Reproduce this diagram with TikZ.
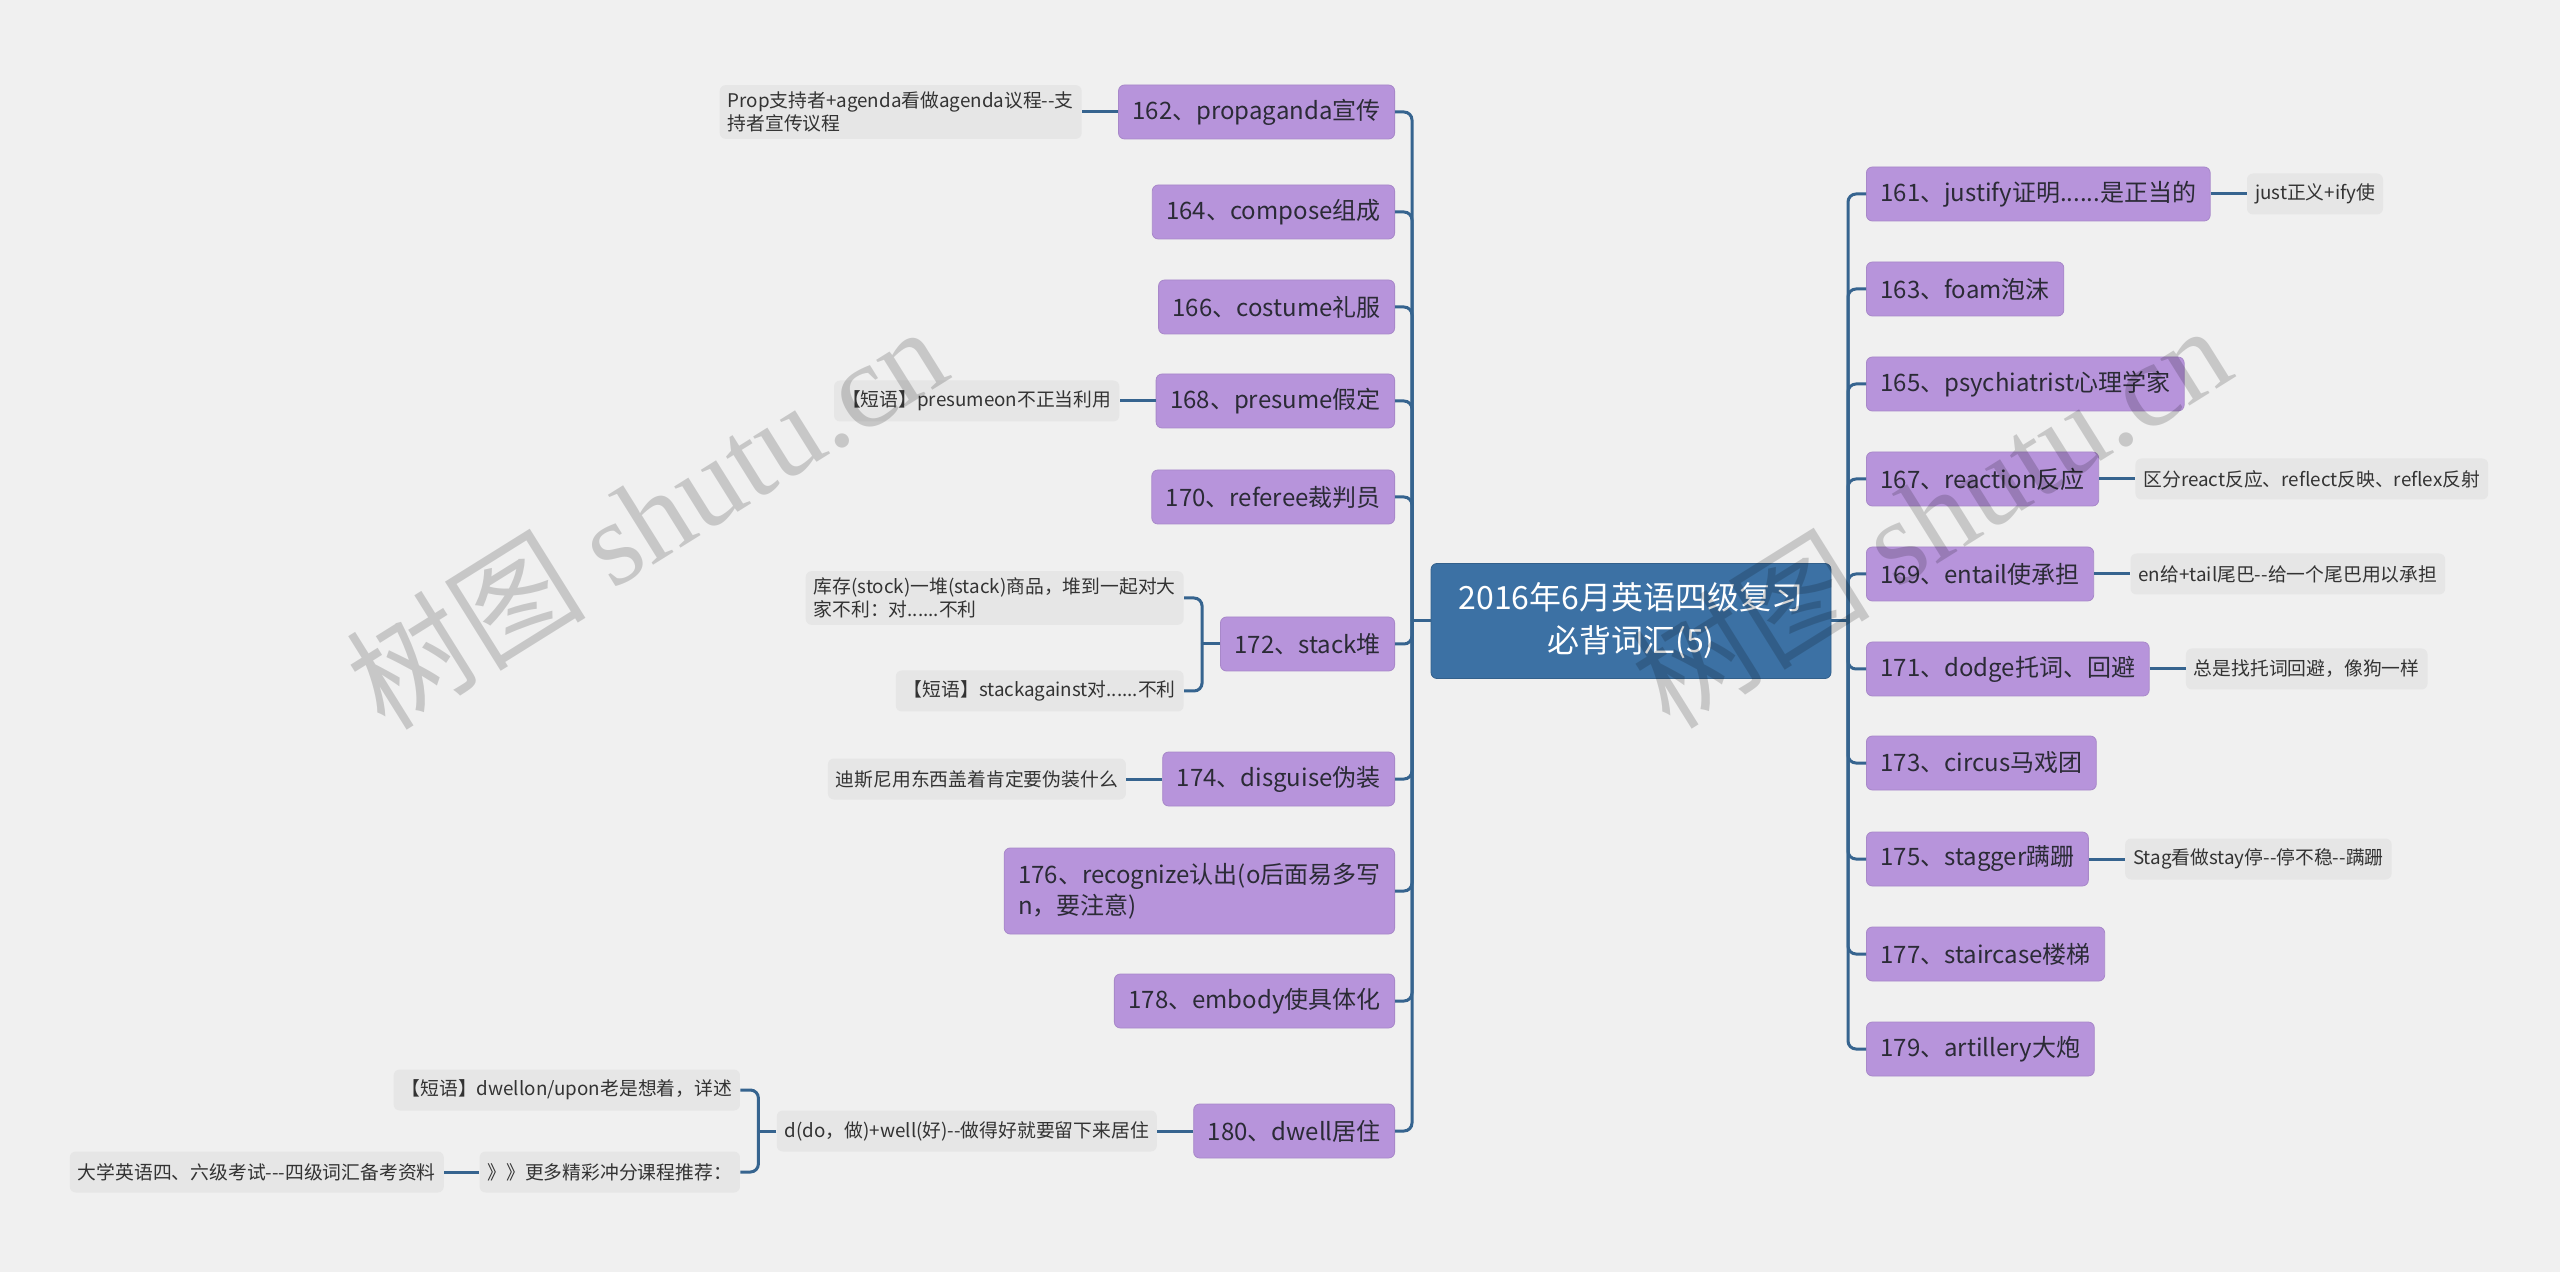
\documentclass[tikz,border=0pt]{standalone}
\usepackage{fontspec}
\setmainfont{Noto Sans CJK SC}[Ligatures=TeXOff]
\newfontfamily\wmfont{Liberation Serif}
\usetikzlibrary{positioning}
\definecolor{bgcol}{HTML}{F0F0F0}
\definecolor{rootcol}{HTML}{3C71A4}
\definecolor{topiccol}{HTML}{B794DB}
\definecolor{notecol}{HTML}{E6E6E6}
\definecolor{linkcol}{HTML}{36648F}
\definecolor{txtcol}{HTML}{2B2B36}
\tikzset{
  root/.style={
    fill=rootcol,
    draw=rootcol!85!black,
    rounded corners=3pt,
    text=white,
    align=center,
    minimum width=200pt,
    minimum height=57.5pt,
    font=\fontsize{16}{21.5}\selectfont
  },
  topic/.style={
    fill=topiccol,
    draw=topiccol!92!black,
    line width=0.4pt,
    rounded corners=3pt,
    text=txtcol,
    align=left,
    inner xsep=7pt,
    minimum height=27pt,
    font=\fontsize{12}{15.5}\selectfont
  },
  note/.style={
    fill=notecol,
    rounded corners=3pt,
    text=black!80,
    align=left,
    inner xsep=4pt,
    minimum height=20.5pt,
    font=\fontsize{9.4}{11.5}\selectfont
  },
  link/.style={
    draw=linkcol,
    line width=1.5pt,
    rounded corners=4pt
  },
  wmark/.style={
    text=black,
    text opacity=0.17,
    rotate=32,
    font=\fontsize{60}{60}\selectfont
  }
}
\begin{document}
\begin{tikzpicture}[x=0.5pt,y=-0.5pt]
  \fill[bgcol] (0,0) rectangle (2560,1272);
  \useasboundingbox (0,0) rectangle (2560,1272);

  % centre
  \node[root] (root) at (1631,621) {2016年6月英语四级复习\\必背词汇(5)};
  \coordinate (ltrunk) at (1412,621);
  \coordinate (rtrunk) at (1848,621);

  % left branch
  \node[topic, anchor=east] (l162) at (1395,112) {162、propaganda宣传};
  \node[topic, anchor=east] (l164) at (1395,212) {164、compose组成};
  \node[topic, anchor=east] (l166) at (1395,307) {166、costume礼服};
  \node[topic, anchor=east] (l168) at (1395,401) {168、presume假定};
  \node[topic, anchor=east] (l170) at (1395,497) {170、referee裁判员};
  \node[topic, anchor=east] (l172) at (1395,644) {172、stack堆};
  \node[topic, anchor=east] (l174) at (1395,779) {174、disguise伪装};
  \node[topic, anchor=east, minimum height=43pt] (l176) at (1395,891) {176、recognize认出(o后面易多写\\n，要注意)};
  \node[topic, anchor=east] (l178) at (1395,1001) {178、embody使具体化};
  \node[topic, anchor=east] (l180) at (1395,1131) {180、dwell居住};

  % right branch
  \node[topic, anchor=west] (r161) at (1866,194) {161、justify证明......是正当的};
  \node[topic, anchor=west] (r163) at (1866,289) {163、foam泡沫};
  \node[topic, anchor=west] (r165) at (1866,384) {165、psychiatrist心理学家};
  \node[topic, anchor=west] (r167) at (1866,479) {167、reaction反应};
  \node[topic, anchor=west] (r169) at (1866,574) {169、entail使承担};
  \node[topic, anchor=west] (r171) at (1866,669) {171、dodge托词、回避};
  \node[topic, anchor=west] (r173) at (1866,763) {173、circus马戏团};
  \node[topic, anchor=west] (r175) at (1866,859) {175、stagger蹒跚};
  \node[topic, anchor=west] (r177) at (1866,954) {177、staircase楼梯};
  \node[topic, anchor=west] (r179) at (1866,1049) {179、artillery大炮};

  % notes, left
  \node[note, left=18pt of l162] (n162) {Prop支持者+agenda看做agenda议程--支\\持者宣传议程};
  \node[note, left=18pt of l168] (n168) {【短语】presumeon不正当利用};
  \coordinate (b172) at ([xshift=-9pt]l172.west);
  \node[note, anchor=east] (n172a) at ([xshift=-18pt,yshift=23pt]l172.west) {库存(stock)一堆(stack)商品，堆到一起对大\\家不利：对......不利};
  \node[note, anchor=east] (n172b) at ([xshift=-18pt,yshift=-23.5pt]l172.west) {【短语】stackagainst对......不利};
  \node[note, left=18pt of l174] (n174) {迪斯尼用东西盖着肯定要伪装什么};
  \node[note, left=18pt of l180] (n180) {d(do，做)+well(好)--做得好就要留下来居住};
  \coordinate (b180) at ([xshift=-9pt]n180.west);
  \node[note, anchor=east] (n180a) at ([xshift=-18pt,yshift=20.5pt]n180.west) {【短语】dwellon/upon老是想着，详述};
  \node[note, anchor=east] (n180b) at ([xshift=-18pt,yshift=-20.5pt]n180.west) {》》更多精彩冲分课程推荐：};
  \node[note, left=17.5pt of n180b] (n180c) {大学英语四、六级考试---四级词汇备考资料};

  % notes, right
  \node[note, right=18pt of r161] (n161) {just正义+ify使};
  \node[note, right=18pt of r167] (n167) {区分react反应、reflect反映、reflex反射};
  \node[note, right=18pt of r169] (n169) {en给+tail尾巴--给一个尾巴用以承担};
  \node[note, right=18pt of r171] (n171) {总是找托词回避，像狗一样};
  \node[note, right=18pt of r175] (n175) {Stag看做stay停--停不稳--蹒跚};

  % trunks
  \draw[link] (root.west) -- (ltrunk);
  \draw[link] (root.east) -- (rtrunk);
  \draw[link] (ltrunk) |- (l162.east);
  \draw[link] (ltrunk) |- (l164.east);
  \draw[link] (ltrunk) |- (l166.east);
  \draw[link] (ltrunk) |- (l168.east);
  \draw[link] (ltrunk) |- (l170.east);
  \draw[link] (ltrunk) |- (l172.east);
  \draw[link] (ltrunk) |- (l174.east);
  \draw[link] (ltrunk) |- (l176.east);
  \draw[link] (ltrunk) |- (l178.east);
  \draw[link] (ltrunk) |- (l180.east);
  \draw[link] (rtrunk) |- (r161.west);
  \draw[link] (rtrunk) |- (r163.west);
  \draw[link] (rtrunk) |- (r165.west);
  \draw[link] (rtrunk) |- (r167.west);
  \draw[link] (rtrunk) |- (r169.west);
  \draw[link] (rtrunk) |- (r171.west);
  \draw[link] (rtrunk) |- (r173.west);
  \draw[link] (rtrunk) |- (r175.west);
  \draw[link] (rtrunk) |- (r177.west);
  \draw[link] (rtrunk) |- (r179.west);

  % note links
  \draw[link] (l162.west) -- (n162.east);
  \draw[link] (l168.west) -- (n168.east);
  \draw[link] (l172.west) -- (b172);
  \draw[link] (b172) |- (n172a.east);
  \draw[link] (b172) |- (n172b.east);
  \draw[link] (l174.west) -- (n174.east);
  \draw[link] (l180.west) -- (n180.east);
  \draw[link] (n180.west) -- (b180);
  \draw[link] (b180) |- (n180a.east);
  \draw[link] (b180) |- (n180b.east);
  \draw[link] (n180b.west) -- (n180c.east);
  \draw[link] (r161.east) -- (n161.west);
  \draw[link] (r167.east) -- (n167.west);
  \draw[link] (r169.east) -- (n169.west);
  \draw[link] (r171.east) -- (n171.west);
  \draw[link] (r175.east) -- (n175.west);

  % watermarks
  \node[wmark] (wm1) at (646,516) {树图 {\wmfont shutu.cn}};
  \node[wmark] (wm2) at (1930,515) {树图 {\wmfont shutu.cn}};
\end{tikzpicture}
\end{document}
